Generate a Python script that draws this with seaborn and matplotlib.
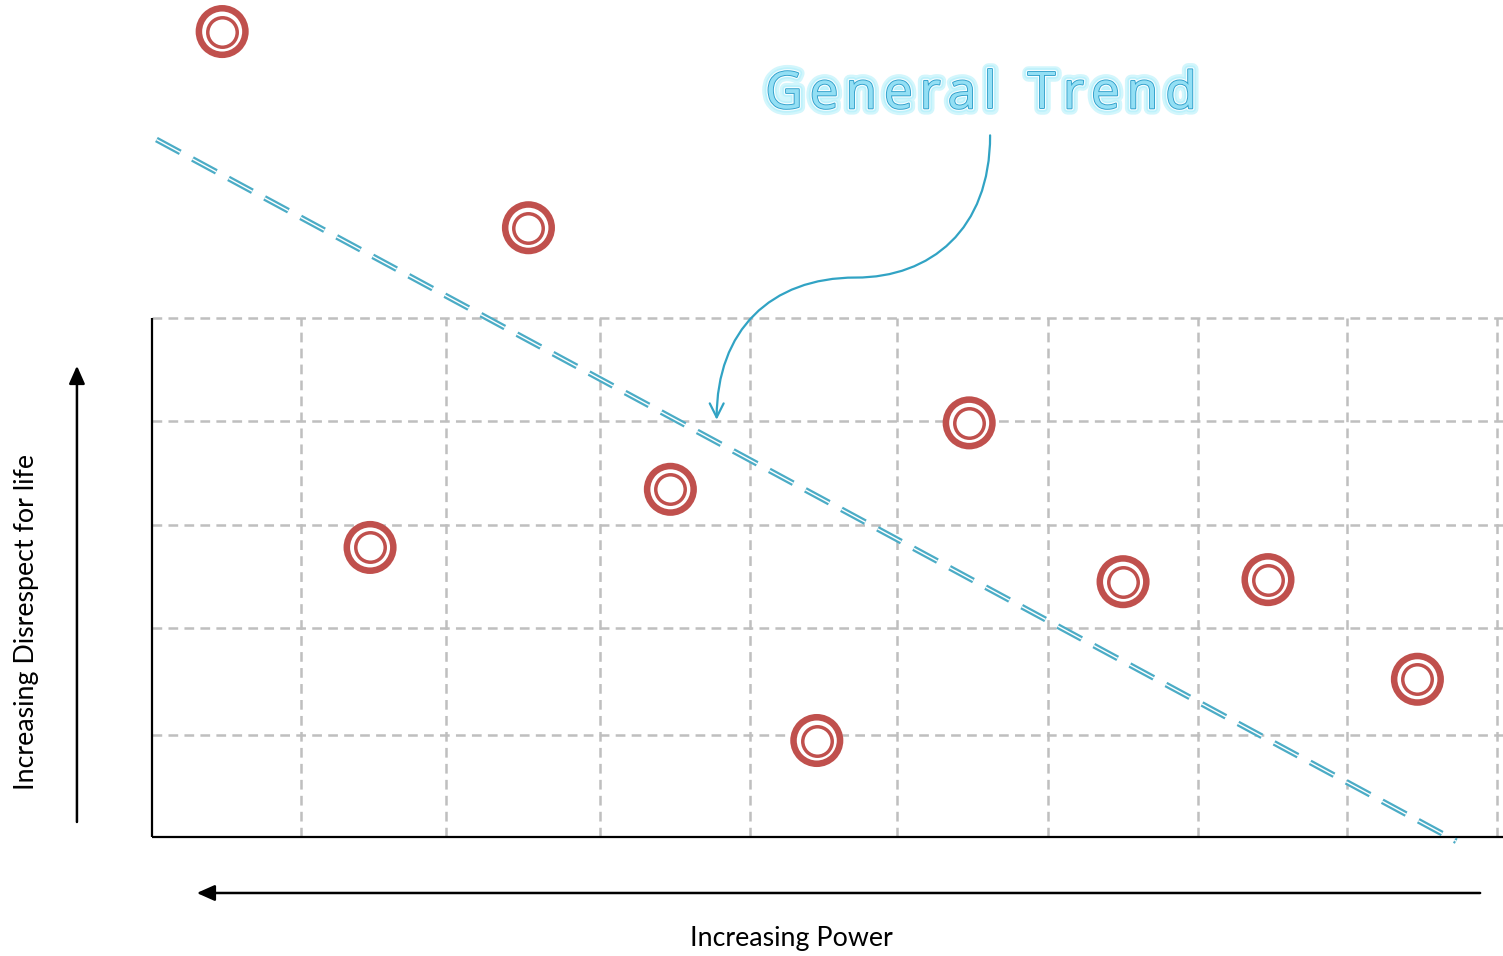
#!/usr/bin/env python3
"""Scatter of power vs disrespect for life with a general trend line."""

import matplotlib
matplotlib.use("Agg")

import matplotlib.pyplot as plt
import matplotlib.patheffects as pe
from matplotlib.patches import FancyArrowPatch
from matplotlib.path import Path
import pandas as pd
import seaborn as sns

# grid units: one column / one row of the dashed grid
power = [0.47, 2.52, 1.46, 3.47, 5.47, 6.50, 7.47, 8.47, 4.45]
disrespect = [7.76, 5.87, 2.79, 3.35, 3.99, 2.46, 2.48, 1.52, 0.93]

trend_x = [0.03, 8.73]
trend_y = [6.72, -0.04]

grid_cols = [1.0, 1.97, 3.0, 4.0, 4.99, 6.0, 7.0, 8.0, 9.0]
grid_rows = [0.98, 2.01, 3.01, 4.01, 5.0]

x_label = "Increasing Power"
y_label = "Increasing Disrespect for life"
callout = "General Trend"

# callout arrow (cubic bezier: start, c1, c2, mid, c3, c4, end)
callout_path = [(5.61, 6.76), (5.61, 5.85), (5.21, 5.39), (4.71, 5.39),
                (4.14, 5.39), (3.78, 4.88), (3.78, 4.02)]

RED = "#C0504D"
TEAL = "#4BACC6"
GRID = "#BFBFBF"


def draw_glow_text(fig, ax, text, x, y, size, tracking_px):
    """Letter-spaced glowing text, centred on (x, y) in data units."""
    effects = [
        pe.Stroke(linewidth=9, foreground="#CDF5FC", alpha=0.9),
        pe.Stroke(linewidth=5.5, foreground="#BDF1FB"),
        pe.Stroke(linewidth=3.0, foreground="#F4FDFF"),
        pe.Stroke(linewidth=1.3, foreground="#2E9FCB"),
        pe.Normal(),
    ]
    fig.canvas.draw()
    renderer = fig.canvas.get_renderer()
    widths = []
    for ch in text:
        probe = ax.text(0, 0, ch if ch != " " else "n", fontsize=size,
                        family=["Open Sans"])
        w = probe.get_window_extent(renderer).width
        probe.remove()
        widths.append(w * (0.55 if ch == " " else 1.0))
    total = sum(widths) + tracking_px * (len(text) - 1)
    cursor = -total / 2
    for ch, w in zip(text, widths):
        if ch != " ":
            ax.annotate(ch, xy=(x, y), xytext=(cursor * 72 / fig.dpi, 0),
                        textcoords="offset points", ha="left", va="center",
                        fontsize=size, family=["Open Sans"], color="#93DFF4",
                        zorder=8, path_effects=effects)
        cursor += w + tracking_px


def main() -> None:
    sns.set_theme(style="white")
    plt.rcParams["font.family"] = ["Lato", "DejaVu Sans"]
    plt.rcParams["lines.scale_dashes"] = False

    fig = plt.figure(figsize=(15.03, 9.56), dpi=100)
    ax = fig.add_axes([0, 0, 1, 1])
    ax.set_xlim(-1.017, 9.043)
    ax.set_ylim(-1.146, 8.064)
    ax.axis("off")

    # dashed grid
    ax.vlines(grid_cols, 0, grid_rows[-1], colors=GRID, linewidth=1.8,
              linestyles=[(0, (7, 4.5))], zorder=1)
    ax.hlines(grid_rows, 0, 9.1, colors=GRID, linewidth=1.8,
              linestyles=[(0, (7, 4.5))], zorder=1)
    # axis lines
    ax.plot([0, 0], [0, grid_rows[-1]], color="black", lw=1.6, zorder=2,
            solid_capstyle="butt")
    ax.plot([0, 9.1], [0, 0], color="black", lw=1.6, zorder=2,
            solid_capstyle="butt")

    # trend line: double dashed
    trend = pd.DataFrame({"x": trend_x, "y": trend_y})
    sns.lineplot(data=trend, x="x", y="y", ax=ax, color=TEAL, lw=4.2,
                 linestyle=(0, (19.5, 10)), zorder=3, estimator=None, sort=False)
    sns.lineplot(data=trend, x="x", y="y", ax=ax, color="white", lw=1.0,
                 linestyle=(0, (19.5, 10)), zorder=4, estimator=None, sort=False)
    for line in ax.lines[-2:]:
        line.set_dash_capstyle("butt")

    # points: ring markers
    pts = pd.DataFrame({"power": power, "disrespect": disrespect})
    sns.scatterplot(data=pts, x="power", y="disrespect", ax=ax, s=1460,
                    color=RED, edgecolor="none", zorder=5)
    sns.scatterplot(data=pts, x="power", y="disrespect", ax=ax, s=830,
                    color="white", edgecolor="none", zorder=6)
    sns.scatterplot(data=pts, x="power", y="disrespect", ax=ax, s=450,
                    facecolor="white", edgecolor=RED, linewidth=2.5, zorder=7)

    # direction arrows
    ax.annotate("", xy=(-0.502, 4.54), xytext=(-0.502, 0.145),
                arrowprops=dict(arrowstyle="-|>,head_length=0.9,head_width=0.4",
                                color="black", lw=1.8, shrinkA=0, shrinkB=0))
    ax.annotate("", xy=(0.30, -0.539), xytext=(8.89, -0.539),
                arrowprops=dict(arrowstyle="-|>,head_length=0.9,head_width=0.4",
                                color="black", lw=1.8, shrinkA=0, shrinkB=0))

    ax.text(4.277, -0.973, x_label, ha="center", va="center", fontsize=19.3,
            color="black")
    ax.text(-0.837, 2.071, y_label, ha="center", va="center", fontsize=19.3,
            rotation=90, color="black")

    codes = [Path.MOVETO] + [Path.CURVE4] * 6
    arrow = FancyArrowPatch(path=Path(callout_path, codes),
                            arrowstyle="->,head_length=10,head_width=5",
                            color="#31A3C4", lw=1.6, zorder=8)
    ax.add_patch(arrow)

    # callout text with glow, letter-spaced
    draw_glow_text(fig, ax, callout, 5.549, 7.15, 37, 7)

    fig.savefig("out.png", dpi=100)
    plt.close(fig)


if __name__ == "__main__":
    main()
